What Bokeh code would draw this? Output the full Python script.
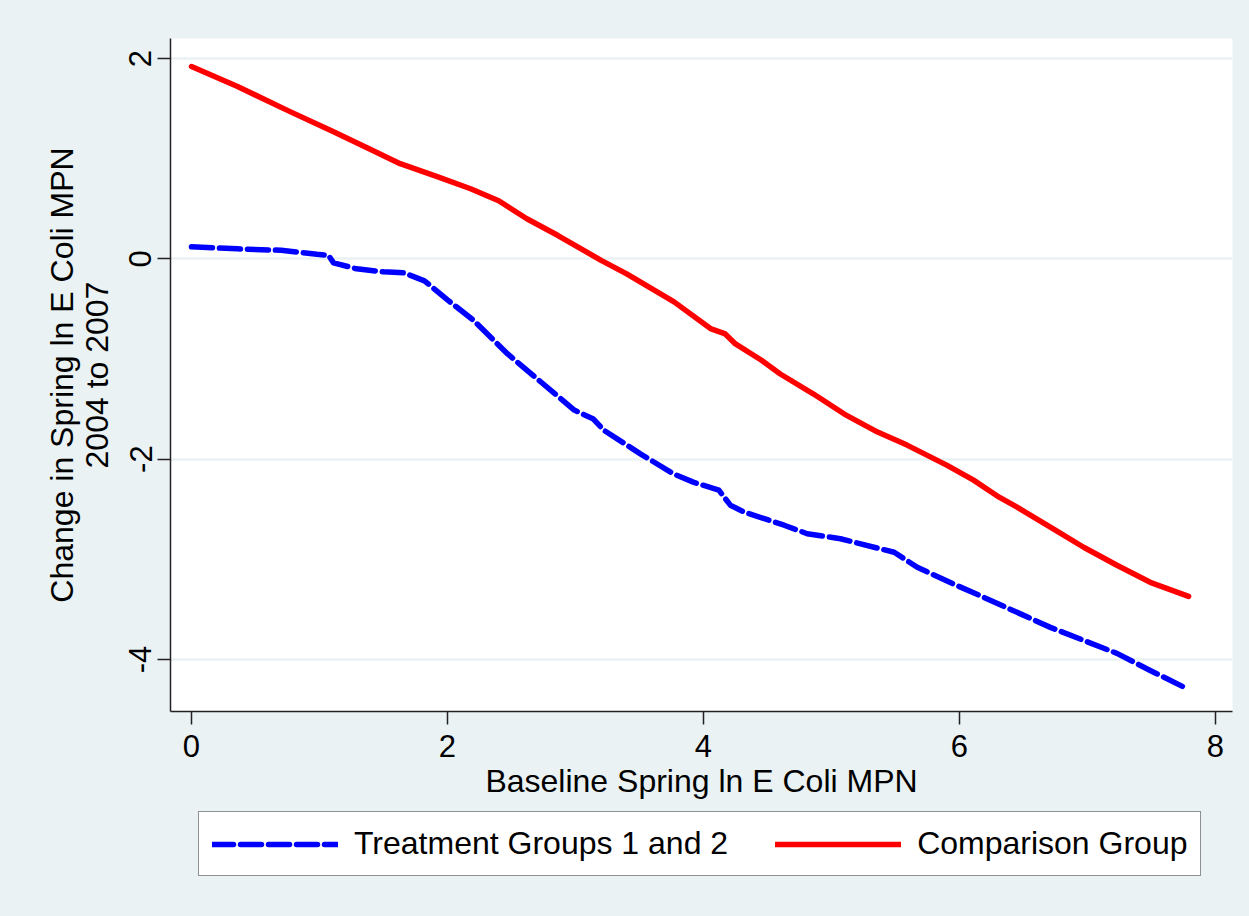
from bokeh.plotting import figure
from bokeh.models import Range1d, FixedTicker, Legend, LegendItem
from bokeh.layouts import column
from bokeh.embed import file_html
from bokeh.resources import INLINE

# ---- data ----
comp_x = [0.0, 0.36, 0.77, 1.11, 1.42, 1.63, 1.92, 2.18, 2.40, 2.62, 2.86, 3.20, 3.40,
          3.77, 4.06, 4.17, 4.25, 4.45, 4.60, 4.86, 5.10, 5.36, 5.59, 5.90, 6.11, 6.31,
          6.45, 6.71, 6.97, 7.23, 7.49, 7.79]
comp_y = [1.92, 1.72, 1.47, 1.27, 1.08, 0.95, 0.82, 0.70, 0.58, 0.40, 0.235, -0.015, -0.15,
          -0.43, -0.70, -0.75, -0.85, -1.01, -1.15, -1.35, -1.55, -1.73, -1.86, -2.06, -2.21, -2.38,
          -2.48, -2.68, -2.88, -3.06, -3.23, -3.37]

treat_x = [0.0, 0.36, 0.70, 0.98, 1.07, 1.11, 1.29, 1.50, 1.66, 1.82, 2.00, 2.20, 2.47,
           2.73, 2.99, 3.14, 3.22, 3.51, 3.77, 3.92, 4.12, 4.21, 4.32, 4.63, 4.81, 5.07,
           5.38, 5.49, 5.67, 5.95, 6.19, 6.45, 6.71, 6.97, 7.23, 7.49, 7.79]
treat_y = [0.12, 0.10, 0.085, 0.045, 0.035, -0.04, -0.10, -0.13, -0.14, -0.22, -0.41, -0.61, -0.95,
           -1.23, -1.51, -1.60, -1.71, -1.95, -2.15, -2.23, -2.31, -2.46, -2.53, -2.66, -2.745, -2.795,
           -2.895, -2.93, -3.08, -3.245, -3.38, -3.53, -3.68, -3.81, -3.94, -4.11, -4.30]

x_ticks = [0, 2, 4, 6, 8]
y_ticks = [-4, -2, 0, 2]
x_title = "Baseline Spring ln E Coli MPN"
y_title = "Change in Spring ln E Coli MPN\n2004 to 2007"
series_names = ["Treatment Groups 1 and 2", "Comparison Group"]

BG = "#EAF2F3"
FONT = "Liberation Sans"
TREAT_STYLE = dict(line_color="#0000FF", line_width=5.5, line_dash="21 7",
                   line_cap="round", line_join="round")
COMP_STYLE = dict(line_color="#FF0000", line_width=5.5, line_cap="round", line_join="round")

W = 1233
H_MAIN = 808
H_LEG = 92

p = figure(width=W, height=H_MAIN, output_backend="svg", toolbar_location=None,
           x_range=Range1d(-0.164, 8.133), y_range=Range1d(-4.52, 2.2),
           min_border_left=170, min_border_right=1, min_border_top=38, min_border_bottom=97)
p.background_fill_color = "white"
p.border_fill_color = BG
p.outline_line_color = None

r_t = p.line(treat_x, treat_y, **TREAT_STYLE)
r_c = p.line(comp_x, comp_y, **COMP_STYLE)

p.xgrid.visible = False
p.ygrid.grid_line_color = BG
p.ygrid.grid_line_width = 2.5

for ax in (p.xaxis[0], p.yaxis[0]):
    ax.axis_line_color = "#222222"
    ax.axis_line_width = 1.5
    ax.major_tick_line_color = "#222222"
    ax.major_tick_line_width = 1.5
    ax.major_tick_in = 0
    ax.major_tick_out = 13
    ax.minor_tick_line_color = None
    ax.major_label_text_font = FONT
    ax.major_label_text_font_size = "31px"
    ax.major_label_text_color = "black"
    ax.axis_label_text_font = FONT
    ax.axis_label_text_font_size = "32px"
    ax.axis_label_text_font_style = "normal"
    ax.axis_label_text_color = "black"

p.xaxis.ticker = FixedTicker(ticks=x_ticks)
p.yaxis.ticker = FixedTicker(ticks=y_ticks)
p.xaxis.major_label_overrides = {t: str(t) for t in x_ticks}
p.yaxis.major_label_overrides = {t: str(t) for t in y_ticks}
p.yaxis.major_label_orientation = "vertical"
p.xaxis.major_label_standoff = 10
p.yaxis.major_label_standoff = 6
p.xaxis.axis_label = x_title
p.yaxis.axis_label = y_title
p.xaxis.axis_label_standoff = 3
p.yaxis.axis_label_standoff = 12
p.yaxis.axis_label_text_line_height = 0.95

# ---- legend strip below the plot (its key lines use the same data, out of view) ----
q = figure(width=W, height=H_LEG, output_backend="svg", toolbar_location=None,
           x_range=Range1d(-3, -2), y_range=Range1d(-3, -2),
           min_border=0, x_axis_type=None, y_axis_type=None)
q.background_fill_color = BG
q.border_fill_color = BG
q.outline_line_color = None
q.xgrid.visible = False
q.ygrid.visible = False
k_t = q.line(treat_x, treat_y, **TREAT_STYLE)
k_c = q.line(comp_x, comp_y, **COMP_STYLE)

legend = Legend(items=[LegendItem(label=series_names[0], renderers=[k_t]),
                       LegendItem(label=series_names[1], renderers=[k_c])],
                orientation="horizontal", location=(28, 24),
                border_line_color="#222222", border_line_width=1.5,
                background_fill_color="white", background_fill_alpha=1.0,
                label_text_font=FONT, label_text_font_size="32px", label_text_color="black",
                glyph_width=126, glyph_height=30, label_standoff=16, spacing=47,
                padding=13, margin=0)
q.add_layout(legend, "center")

layout = column(p, q, spacing=0)
html = file_html(layout, INLINE)
html = html.replace("</head>", "<style>body{background:%s;}</style></head>" % BG, 1)
open("out.html", "w").write(html)
